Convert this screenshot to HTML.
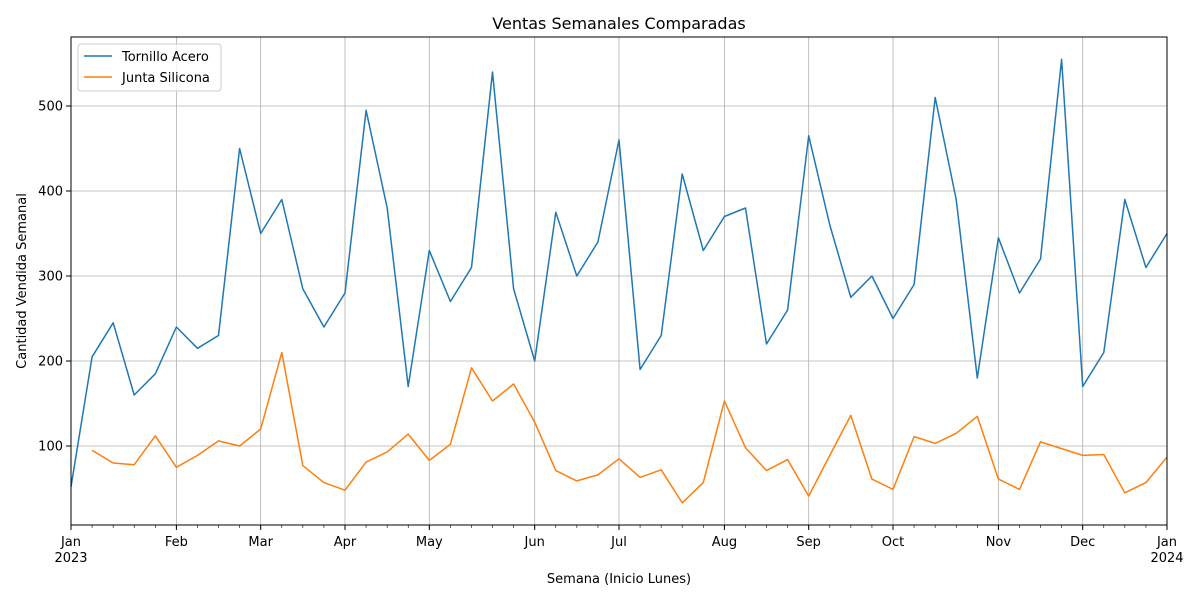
<!DOCTYPE html>
<html><head><meta charset="utf-8"><style>
body{margin:0;background:#fff;font-family:"DejaVu Sans","Liberation Sans",sans-serif}
svg text{font-family:"DejaVu Sans","Liberation Sans",sans-serif;fill:#000}
</style></head><body>
<svg id="chart" width="1200" height="600" xmlns="http://www.w3.org/2000/svg">
<rect width="1200" height="600" fill="#fff"/>
<text x="619" y="29" font-size="16" text-anchor="middle">Ventas Semanales Comparadas</text>
<g id="grid"></g>
<g id="series"></g>
<rect x="71" y="37" width="1096" height="488" fill="none" stroke="#000" stroke-width="1"/>
<g id="axes"></g>
<text x="619" y="583" font-size="13" text-anchor="middle">Semana (Inicio Lunes)</text>
<text transform="translate(26,281) rotate(-90)" font-size="13" text-anchor="middle">Cantidad Vendida Semanal</text>
<g>
<rect x="78" y="44" width="143" height="47" rx="3" fill="#fff" fill-opacity="0.8" stroke="#ccc"/>
<line x1="84" y1="56" x2="112" y2="56" stroke="#1f77b4" stroke-width="1.5"/>
<text x="122" y="61" font-size="13">Tornillo Acero</text>
<line x1="84" y1="77" x2="112" y2="77" stroke="#ff7f0e" stroke-width="1.5"/>
<text x="122" y="82" font-size="13">Junta Silicona</text>
</g>
</svg>
<script>
const tornillo=[52,205,245,160,185,240,215,230,450,350,390,285,240,280,495,380,170,330,270,310,540,285,200,375,300,340,460,190,230,420,330,370,380,220,260,465,360,275,300,250,290,510,390,180,345,280,320,555,170,210,390,310,350];
const junta=[null,95,80,78,112,75,89,106,100,120,210,77,57,48,81,93,114,83,102,192,153,173,128,71,59,66,85,63,72,33,57,153,98,71,84,41,89,136,61,49,111,103,115,135,61,49,105,97,89,90,45,57,87];
const monthWeeks=[0,5,9,13,17,22,26,31,35,39,44,48,52];
const monthLabels=["Jan","Feb","Mar","Apr","May","Jun","Jul","Aug","Sep","Oct","Nov","Dec","Jan"];
const yearLabels={0:"2023",52:"2024"};
const yTicks=[100,200,300,400,500];
const NS="http://www.w3.org/2000/svg";
const X=i=>71+i*(1096/52);
const Y=v=>531-v*0.85;
function mk(tag,attrs,parent){const e=document.createElementNS(NS,tag);for(const k in attrs)e.setAttribute(k,attrs[k]);parent.appendChild(e);return e;}
const grid=document.getElementById('grid'),axes=document.getElementById('axes'),ser=document.getElementById('series');
yTicks.forEach(v=>{
 const g=mk('line',{x1:71,x2:1167,y1:Y(v),y2:Y(v),stroke:'#b0b0b0','stroke-width':0.8},grid);
 
 
 mk('line',{x1:66,x2:71,y1:Y(v),y2:Y(v),stroke:'#000'},axes);
 const t=mk('text',{x:63,y:Y(v)+4.5,'font-size':13,'text-anchor':'end'},axes);t.textContent=v;
 
 
});
for(let i=0;i<=52;i++){mk('line',{x1:X(i),x2:X(i),y1:525,y2:528,stroke:'#000','stroke-width':0.6},axes);}
monthWeeks.forEach((w,k)=>{
 const g=mk('line',{x1:X(w),x2:X(w),y1:37,y2:525,stroke:'#b0b0b0','stroke-width':0.8},grid);
 
 
 mk('line',{x1:X(w),x2:X(w),y1:525,y2:530,stroke:'#000'},axes);
 const t=mk('text',{x:X(w),y:546,'font-size':13,'text-anchor':'middle'},axes);t.textContent=monthLabels[k];
 
 
 if(yearLabels[w]){const y=mk('text',{x:X(w),y:562,'font-size':13,'text-anchor':'middle'},axes);y.textContent=yearLabels[w];
 
 }
});
function line(data,color,name){
 let d='',pen=false;
 data.forEach((v,i)=>{if(v==null){pen=false;return;}d+=(pen?'L':'M')+X(i).toFixed(1)+','+Y(v).toFixed(1);pen=true;});
 const p=mk('path',{d:d,fill:'none',stroke:color,'stroke-width':1.5,'stroke-linejoin':'round'},ser);
 
 
}
line(tornillo,'#1f77b4','tornillo-acero-line');
line(junta,'#ff7f0e','junta-silicona-line');
</script>
</body></html>
